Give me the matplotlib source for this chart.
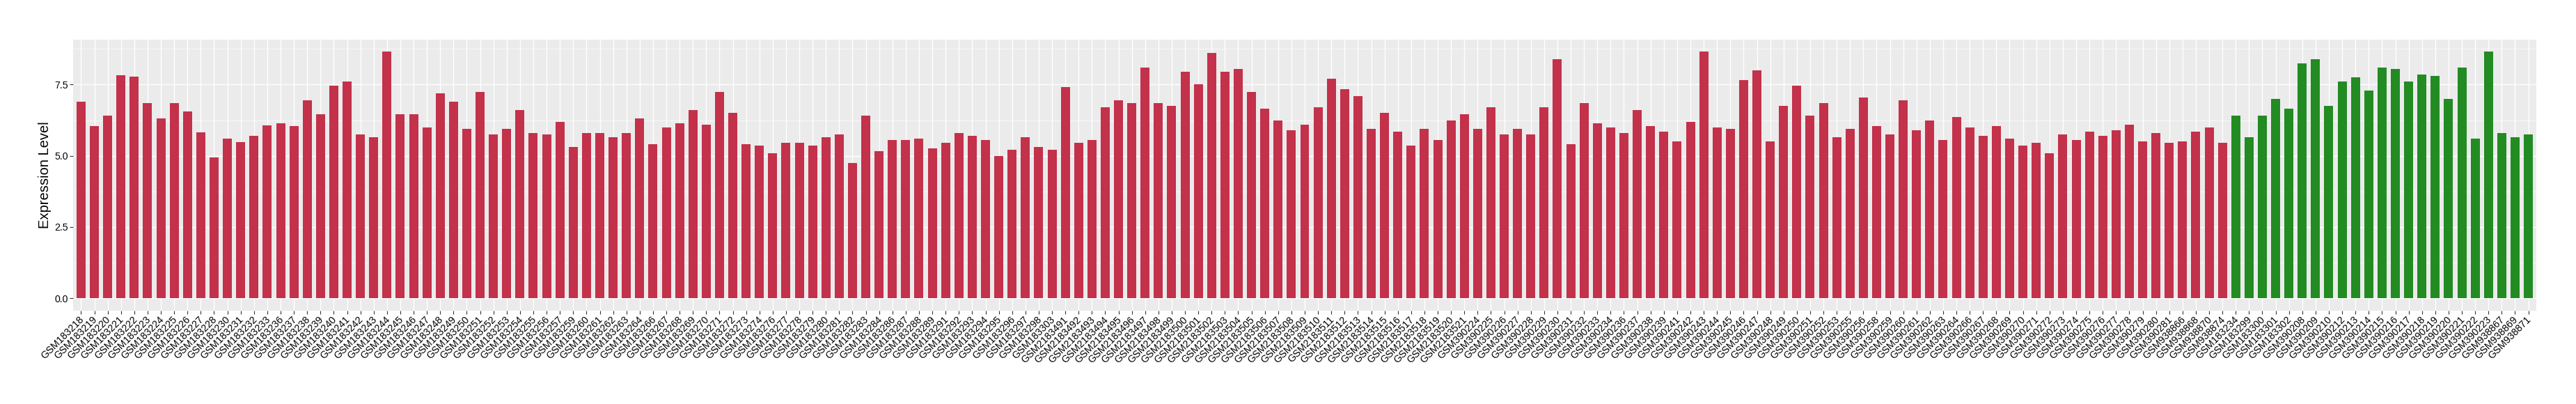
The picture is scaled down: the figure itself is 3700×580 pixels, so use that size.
import matplotlib
matplotlib.use("Agg")
import matplotlib.pyplot as plt
from matplotlib.ticker import MultipleLocator
from matplotlib.transforms import ScaledTranslation
import numpy as np

plt.rcParams['font.family'] = ['Liberation Sans', 'DejaVu Sans']

red_samples = [
    "GSM183218", "GSM183219", "GSM183220", "GSM183221", "GSM183222", "GSM183223", "GSM183224",
    "GSM183225", "GSM183226", "GSM183227", "GSM183228", "GSM183230", "GSM183231", "GSM183232",
    "GSM183233", "GSM183236", "GSM183237", "GSM183238", "GSM183239", "GSM183240", "GSM183241",
    "GSM183242", "GSM183243", "GSM183244", "GSM183245", "GSM183246", "GSM183247", "GSM183248",
    "GSM183249", "GSM183250",
    "GSM183251", "GSM183252", "GSM183253", "GSM183254", "GSM183255", "GSM183256", "GSM183257",
    "GSM183259", "GSM183260", "GSM183261", "GSM183262", "GSM183263", "GSM183264", "GSM183266",
    "GSM183267", "GSM183268",
    "GSM183269", "GSM183270", "GSM183271", "GSM183272", "GSM183273", "GSM183274", "GSM183276",
    "GSM183277", "GSM183278", "GSM183279", "GSM183280", "GSM183281", "GSM183282", "GSM183283",
    "GSM183284",
    "GSM183286", "GSM183287", "GSM183288", "GSM183289", "GSM183291", "GSM183292", "GSM183293",
    "GSM183294", "GSM183295", "GSM183296", "GSM183297", "GSM183298", "GSM183303", "GSM2183491",
    "GSM2183492", "GSM2183493",
    "GSM2183494", "GSM2183495", "GSM2183496", "GSM2183497", "GSM2183498", "GSM2183499",
    "GSM2183500", "GSM2183501", "GSM2183502", "GSM2183503", "GSM2183504", "GSM2183505",
    "GSM2183506", "GSM2183507", "GSM2183508", "GSM2183509",
    "GSM2183510", "GSM2183511", "GSM2183512", "GSM2183513", "GSM2183514", "GSM2183515",
    "GSM2183516", "GSM2183517", "GSM2183518", "GSM2183519", "GSM2183520", "GSM2183521",
    "GSM390224", "GSM390225", "GSM390226",
    "GSM390227", "GSM390228", "GSM390229", "GSM390230", "GSM390231", "GSM390232", "GSM390233",
    "GSM390234", "GSM390236", "GSM390237", "GSM390238", "GSM390239", "GSM390241", "GSM390242",
    "GSM390243", "GSM390244",
    "GSM390245", "GSM390246", "GSM390247", "GSM390248", "GSM390249", "GSM390250", "GSM390251",
    "GSM390252", "GSM390253", "GSM390255", "GSM390256", "GSM390258", "GSM390259", "GSM390260",
    "GSM390261", "GSM390262",
    "GSM390263", "GSM390264", "GSM390266", "GSM390267", "GSM390268", "GSM390269", "GSM390270",
    "GSM390271", "GSM390272", "GSM390273", "GSM390274", "GSM390275", "GSM390276", "GSM390277",
    "GSM390278", "GSM390279",
    "GSM390280", "GSM390281", "GSM938866", "GSM938868", "GSM938870", "GSM938874",
]

green_samples = [
    "GSM183234", "GSM183299", "GSM183300", "GSM183301", "GSM183302", "GSM390208", "GSM390209",
    "GSM390210", "GSM390212", "GSM390213", "GSM390214", "GSM390215", "GSM390216", "GSM390217",
    "GSM390218", "GSM390219", "GSM390220", "GSM390221", "GSM390222", "GSM390223", "GSM938867",
    "GSM938869", "GSM938871",
]

red_values = [
    6.89, 6.04, 6.40, 7.82, 7.79, 6.84, 6.30, 6.84, 6.55, 5.82, 4.94, 5.60, 5.47, 5.69, 6.06, 6.13,
    6.05, 6.95, 6.45, 7.45, 7.60, 5.75, 5.65, 8.65, 6.45, 6.45, 6.00, 7.20, 6.90, 5.95,
    7.25, 5.75, 5.95, 6.60, 5.80, 5.75, 6.20, 5.30, 5.80, 5.80, 5.65, 5.80, 6.30, 5.40,
    6.00, 6.15, 6.60, 6.10, 7.25, 6.50, 5.40, 5.35, 5.10, 5.45, 5.45, 5.35, 5.65, 5.75,
    4.75, 6.40, 5.15, 5.55, 5.55, 5.60, 5.25, 5.45, 5.80, 5.70, 5.55, 5.00, 5.20, 5.65,
    5.30, 5.20, 7.40, 5.45, 5.55, 6.70, 6.95, 6.85, 8.10, 6.85, 6.75, 7.95, 7.50, 8.60,
    7.95, 8.05, 7.25, 6.65, 6.25, 5.90, 6.10, 6.70, 7.70, 7.35, 7.10, 5.95, 6.50, 5.85,
    5.35, 5.95, 5.55, 6.25, 6.45, 5.95, 6.70, 5.75, 5.95, 5.75, 6.70, 8.40, 5.40, 6.85,
    6.15, 6.00, 5.80, 6.60, 6.05, 5.85, 5.50, 6.20, 8.65, 6.00, 5.95, 7.65, 8.00, 5.50,
    6.75, 7.45, 6.40, 6.85, 5.65, 5.95, 7.05, 6.05, 5.75, 6.95, 5.90, 6.25, 5.55, 6.35,
    6.00, 5.70, 6.05, 5.60, 5.35, 5.45, 5.10, 5.75, 5.55, 5.85, 5.70, 5.90, 6.10, 5.50,
    5.80, 5.45, 5.50, 5.85, 6.00, 5.45,
]

green_values = [
    6.40, 5.65, 6.40, 7.00, 6.65, 8.25, 8.40, 6.75, 7.60, 7.75, 7.30, 8.10, 8.05, 7.60,
    7.85, 7.80, 7.00, 8.10, 5.60, 8.65, 5.80, 5.65, 5.75,
]

red_color = "#C3314A"
green_color = "#228B22"

samples = red_samples + green_samples
values = red_values + green_values
colors = [red_color] * len(red_samples) + [green_color] * len(green_samples)

W, H = 3700, 580
fig = plt.figure(figsize=(W / 100, H / 100), dpi=100)
ax = fig.add_axes([105 / W, 1 - 445.7 / H, (3643 - 105) / W, (445.7 - 56.7) / H])

x = np.arange(len(samples))
ax.set_facecolor("#EBEBEB")
ax.set_axisbelow(True)
ax.bar(x, values, width=0.68, color=colors, zorder=3)

n = len(samples)
ax.set_xlim(-0.6, n - 1 + 0.6)
vmax = max(values)
ax.set_ylim(-0.05 * vmax, vmax * 1.05)

ax.yaxis.set_minor_locator(MultipleLocator(1.25))
ax.set_yticks([0, 2.5, 5.0, 7.5])
ax.set_yticklabels(["0.0", "2.5", "5.0", "7.5"])
ax.grid(which="major", axis="both", color="white", linewidth=1.0)
ax.grid(which="minor", axis="y", color="white", linewidth=0.5)
ax.tick_params(axis="y", which="minor", length=0)

ax.set_xticks(x)
ax.set_xticklabels(samples, rotation=45, ha="right", va="top", rotation_mode="anchor",
                   fontsize=10.3, color="black")
ax.tick_params(axis="both", which="major", length=3.3, width=0.8, color="#333333",
               labelcolor="black")
ax.tick_params(axis="y", labelsize=10.2, pad=1.8)
ax.tick_params(axis="x", pad=1.0)

shift = ScaledTranslation(-3 / 100, 0, fig.dpi_scale_trans)
for lab in ax.get_xticklabels():
    lab.set_transform(lab.get_transform() + shift)

for s in ax.spines.values():
    s.set_visible(False)

ax.set_ylabel("Expression Level", fontsize=14.5, color="black", labelpad=3)

fig.savefig("out.png", dpi=100, facecolor="white")
